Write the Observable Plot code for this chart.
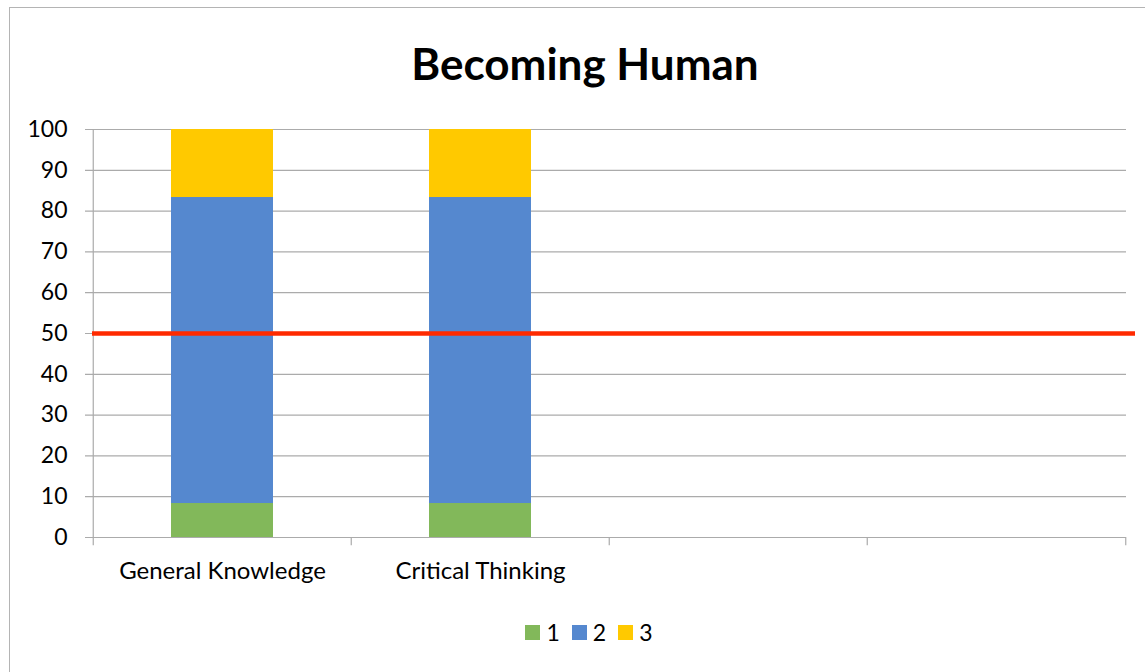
<!DOCTYPE html>
<html>
<head>
<meta charset="utf-8">
<script src="https://cdn.jsdelivr.net/npm/d3@7"></script>
<script src="https://cdn.jsdelivr.net/npm/@observablehq/plot@0.6"></script>
<style>
  html, body { margin: 0; padding: 0; background: #fff; }
  body { width: 1145px; height: 672px; overflow: hidden; position: relative; font-family: Lato, "Open Sans", sans-serif; }
  #border { position: absolute; left: 9px; top: 7px; width: 1200px; height: 800px; border-left: 1.5px solid #b4b4b4; border-top: 1.5px solid #b4b4b4; }
  #title { position: absolute; left: 0; top: 0; width: 1170px; height: 100px; text-align: center; font-weight: bold; font-size: 44px; line-height: 126px; color: #000; }
  #chart { position: absolute; left: 0; top: 100px; }
  #legend { position: absolute; left: 0; top: 600px; width: 1178px; display: flex; justify-content: center; align-items: center; padding-top: 18px; font-size: 23px; color: #000; }
  .item { display: flex; align-items: center; margin: 0 6px; }
  .sw { width: 15px; height: 15px; margin-right: 6px; }
</style>
</head>
<body>
<div id="border"></div>
<div id="title">Becoming Human</div>
<div id="chart"></div>
<div id="legend"></div>
<script>
const categories = ["General Knowledge", "Critical Thinking", " ", "  "];
const seriesNames = ["1", "2", "3"];
const series1 = [8.33, 8.33];
const series2 = [75, 75];
const series3 = [16.67, 16.67];
const seriesColors = ["#82b85a", "#5588cf", "#ffc900"];
const yTicks = [0, 10, 20, 30, 40, 50, 60, 70, 80, 90, 100];
const threshold = 50;

const rows = [];
[series1, series2, series3].forEach((vals, si) => {
  vals.forEach((v, ci) => rows.push({cat: categories[ci], series: seriesNames[si], value: v}));
});

const W = 1145, H = 500, ML = 92, MR = 19, MT = 29, MB = 63;
const halfStep = (W - ML - MR) / categories.length / 2;
const boundaries = categories.map(c => ({cat: c, dx: -halfStep}))
  .concat([{cat: categories[categories.length - 1], dx: halfStep}]);

const chart = Plot.plot({
  width: W, height: H,
  marginLeft: ML, marginRight: MR, marginTop: MT, marginBottom: MB,
  style: {fontFamily: "Lato, 'Open Sans', sans-serif", fontSize: "23px", color: "#000", background: "transparent", overflow: "visible"},
  x: {domain: categories, padding: 0, label: null},
  y: {domain: [0, 100], label: null},
  color: {domain: seriesNames, range: seriesColors},
  marks: [
    Plot.ruleY(yTicks, {stroke: "#ababab", strokeWidth: 1.2, insetLeft: -7}),
    Plot.barY(rows, {x: "cat", y: "value", fill: "series", insetLeft: 78, insetRight: 78}),
    Plot.ruleX(boundaries.filter(d => d.dx < 0), {x: "cat", dx: -halfStep, y1: -2, y2: d => d === boundaries[0] ? 100 : 0, stroke: "#ababab", strokeWidth: 1.2}),
    Plot.ruleX(boundaries.filter(d => d.dx > 0), {x: "cat", dx: halfStep, y1: -2, y2: 0, stroke: "#ababab", strokeWidth: 1.2}),
    Plot.ruleY([threshold], {stroke: "#ff2a00", strokeWidth: 4.5, insetRight: -9}),
    Plot.axisY({ticks: yTicks, tickSize: 0, tickPadding: 25, fontSize: 23}),
    Plot.axisX({tickSize: 0, tickPadding: 24, fontSize: 24, tickFormat: d => d.trim()})
  ]
});
document.getElementById("chart").appendChild(chart);

const legend = document.getElementById("legend");
seriesNames.forEach((n, i) => {
  const it = document.createElement("div");
  it.className = "item";
  it.innerHTML = `<div class="sw" style="background:${seriesColors[i]}"></div><span>${n}</span>`;
  legend.appendChild(it);
});
</script>
</body>
</html>
